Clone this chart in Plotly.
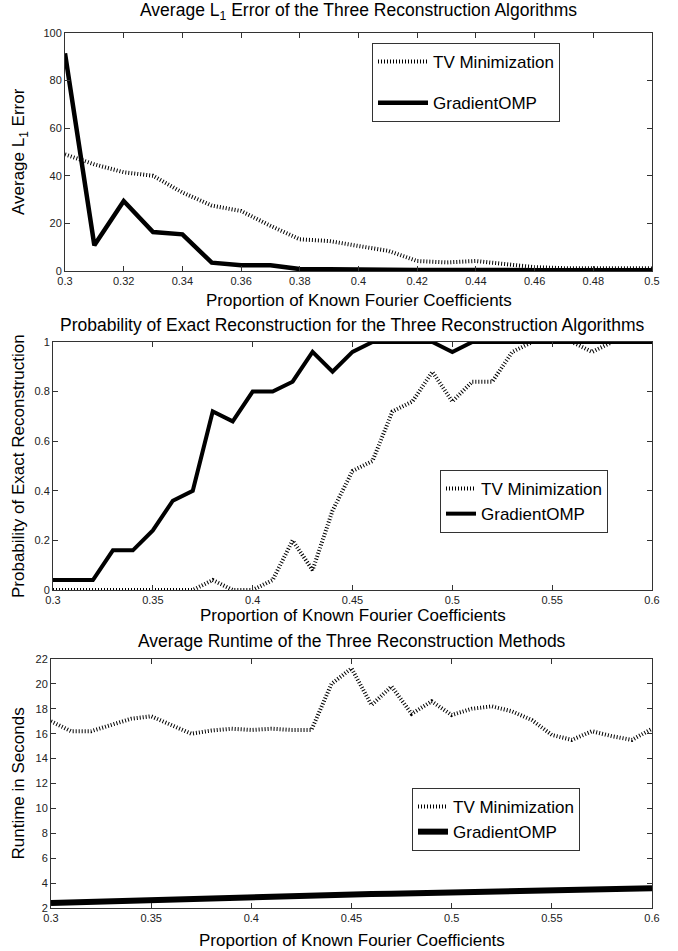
import plotly.graph_objects as go

W, H = 678, 951

# ---------------- data ----------------
x1 = [0.30, 0.31, 0.32, 0.33, 0.34, 0.35, 0.36, 0.37, 0.38, 0.39, 0.40,
      0.41, 0.42, 0.43, 0.44, 0.45, 0.46, 0.47, 0.48, 0.49, 0.50]
tv_err = [49, 44.8, 41.5, 40, 33, 27.5, 25.2, 19, 13.3, 12.6, 10.5,
          8.5, 4.2, 3.6, 4.2, 3.0, 1.6, 1.2, 1.1, 1.1, 1.1]
gomp_err = [91.5, 10.8, 29.4, 16.4, 15.4, 3.5, 2.4, 2.4, 0.8, 0.6, 0.6,
            0.6, 0.4, 0.4, 0.6, 0.4, 0.3, 0.3, 0.3, 0.3, 0.3]

x2 = [0.30, 0.31, 0.32, 0.33, 0.34, 0.35, 0.36, 0.37, 0.38, 0.39, 0.40,
      0.41, 0.42, 0.43, 0.44, 0.45, 0.46, 0.47, 0.48, 0.49, 0.50,
      0.51, 0.52, 0.53, 0.54, 0.55, 0.56, 0.57, 0.58, 0.59, 0.60]
tv_prob = [0, 0, 0, 0, 0, 0, 0, 0, 0.04, 0, 0,
           0.04, 0.20, 0.08, 0.32, 0.48, 0.52, 0.72, 0.76, 0.88, 0.76,
           0.84, 0.84, 0.96, 1.0, 1.0, 1.0, 0.96, 1.0, 1.0, 1.0]
gomp_prob = [0.04, 0.04, 0.04, 0.16, 0.16, 0.24, 0.36, 0.40, 0.72, 0.68, 0.80,
             0.80, 0.84, 0.96, 0.88, 0.96, 1.0, 1.0, 1.0, 1.0, 0.96,
             1.0, 1.0, 1.0, 1.0, 1.0, 1.0, 1.0, 1.0, 1.0, 1.0]

x3 = x2
tv_time = [17.0, 16.2, 16.2, 16.7, 17.2, 17.4, 16.7, 16.0, 16.25, 16.4, 16.3,
           16.4, 16.3, 16.3, 20.0, 21.25, 18.3, 19.8, 17.6, 18.6, 17.5,
           18.0, 18.2, 17.8, 17.1, 15.9, 15.5, 16.2, 15.8, 15.5, 16.4]
gomp_time = [2.40, 2.45, 2.50, 2.55, 2.60, 2.65, 2.70, 2.78, 2.82, 2.86, 2.90,
             2.94, 2.98, 3.02, 3.05, 3.08, 3.12, 3.15, 3.18, 3.22, 3.25,
             3.28, 3.31, 3.34, 3.37, 3.40, 3.44, 3.47, 3.50, 3.54, 3.58]

titles = ["Average L<sub>1</sub> Error of the Three Reconstruction Algorithms",
          "Probability of Exact Reconstruction for the Three Reconstruction Algorithms",
          "Average Runtime of the Three Reconstruction Methods"]
ylabels = ["Average L<sub>1</sub> Error", "Probability of Exact Reconstruction",
           "Runtime in Seconds"]
xlabel = "Proportion of Known Fourier Coefficients"
names = ["TV Minimization", "GradientOMP"]

x1_ticks = [0.3, 0.32, 0.34, 0.36, 0.38, 0.4, 0.42, 0.44, 0.46, 0.48, 0.5]
x1_ticktext = ["0.3", "0.32", "0.34", "0.36", "0.38", "0.4", "0.42", "0.44", "0.46", "0.48", "0.5"]
y1_ticks = [0, 20, 40, 60, 80, 100]
x23_ticks = [0.3, 0.35, 0.4, 0.45, 0.5, 0.55, 0.6]
x23_ticktext = ["0.3", "0.35", "0.4", "0.45", "0.5", "0.55", "0.6"]
y2_ticks = [0, 0.2, 0.4, 0.6, 0.8, 1]
y2_ticktext = ["0", "0.2", "0.4", "0.6", "0.8", "1"]
y3_ticks = [2, 4, 6, 8, 10, 12, 14, 16, 18, 20, 22]

# ---------------- layout geometry (pixels) ----------------
boxes = [(65, 652, 33, 271), (53, 652, 342, 590), (51, 652, 659, 908)]

def xd(a, b):
    return [a / W, b / W]

def yd(top, bot):
    return [1 - bot / H, 1 - top / H]

FONT = "Liberation Sans, Arial, sans-serif"
dot = dict(color="black", width=4, dash="1px,2px")

fig = go.Figure()
series = [(x1, tv_err, gomp_err), (x2, tv_prob, gomp_prob), (x3, tv_time, gomp_time)]
gwidth = [4.5, 4, 6]
for i, (xs, tv, gp) in enumerate(series):
    ax = "" if i == 0 else str(i + 1)
    lg = "legend" if i == 0 else "legend" + str(i + 1)
    fig.add_trace(go.Scatter(x=xs, y=tv, mode="lines", name=names[0], line=dot,
                             xaxis="x" + ax, yaxis="y" + ax, legend=lg,
                             legendgroup="a%d" % i))
    fig.add_trace(go.Scatter(x=xs, y=gp, mode="lines", name=names[1],
                             line=dict(color="black", width=gwidth[i]),
                             xaxis="x" + ax, yaxis="y" + ax, legend=lg,
                             legendgroup="b%d" % i))

axis_common = dict(showline=True, linecolor="#333", linewidth=1, mirror="ticks",
                   ticks="inside", ticklen=5, tickcolor="#333", showgrid=False,
                   zeroline=False, automargin=False,
                   tickfont=dict(family=FONT, size=11, color="#222"))

layout = dict(width=W, height=H,
              margin=dict(l=0, r=0, t=0, b=0, pad=0, autoexpand=False),
              paper_bgcolor="white", plot_bgcolor="white", showlegend=True,
              font=dict(family=FONT, color="black"), hovermode=False)

xranges = [[0.3, 0.5], [0.3, 0.6], [0.3, 0.6]]
yranges = [[0, 100], [0, 1], [2, 22]]
xt = [(x1_ticks, x1_ticktext), (x23_ticks, x23_ticktext), (x23_ticks, x23_ticktext)]
yt = [(y1_ticks, [str(v) for v in y1_ticks]), (y2_ticks, y2_ticktext),
      (y3_ticks, [str(v) for v in y3_ticks])]
for i in range(3):
    l, r, t, b = boxes[i]
    sfx = "" if i == 0 else str(i + 1)
    layout["xaxis" + sfx] = dict(axis_common, domain=xd(l, r), range=xranges[i],
                                 tickvals=xt[i][0], ticktext=xt[i][1],
                                 anchor="y" + sfx)
    layout["yaxis" + sfx] = dict(axis_common, domain=yd(t, b), range=yranges[i],
                                 tickvals=yt[i][0], ticktext=yt[i][1],
                                 anchor="x" + sfx)

leg_common = dict(bgcolor="white", bordercolor="#333", borderwidth=1,
                  xanchor="left", yanchor="top",
                  font=dict(family=FONT, size=17, color="black"))
layout["legend"] = dict(leg_common, x=372 / W, y=1 - 43 / H, tracegroupgap=16,
                        itemwidth=50)
layout["legend2"] = dict(leg_common, x=440 / W, y=1 - 470 / H, tracegroupgap=0)
layout["legend3"] = dict(leg_common, x=412 / W, y=1 - 788 / H, tracegroupgap=0)

fig.update_layout(**layout)

# titles and axis labels
title_y = [11, 325, 641]
xlabel_y = [300, 615, 940]
ylabel_x = [20, 18, 18]
for i in range(3):
    l, r, t, b = boxes[i]
    cx = (l + r) / 2 / W
    fig.add_annotation(text=titles[i], x=cx, y=1 - title_y[i] / H, xref="paper",
                       yref="paper", showarrow=False, xanchor="center",
                       yanchor="middle", font=dict(family=FONT, size=17.5, color="black"))
    fig.add_annotation(text=xlabel, x=cx, y=1 - xlabel_y[i] / H, xref="paper",
                       yref="paper", showarrow=False, xanchor="center",
                       yanchor="middle", font=dict(family=FONT, size=17, color="black"))
    fig.add_annotation(text=ylabels[i], x=ylabel_x[i] / W, y=1 - (t + b) / 2 / H,
                       xref="paper", yref="paper", showarrow=False, textangle=-90,
                       xanchor="center", yanchor="middle",
                       font=dict(family=FONT, size=17, color="black"))

fig.write_html("out.html", config={"displayModeBar": False},
               post_script="document.body.style.margin='0px';"
                           "document.body.style.overflow='hidden';")
